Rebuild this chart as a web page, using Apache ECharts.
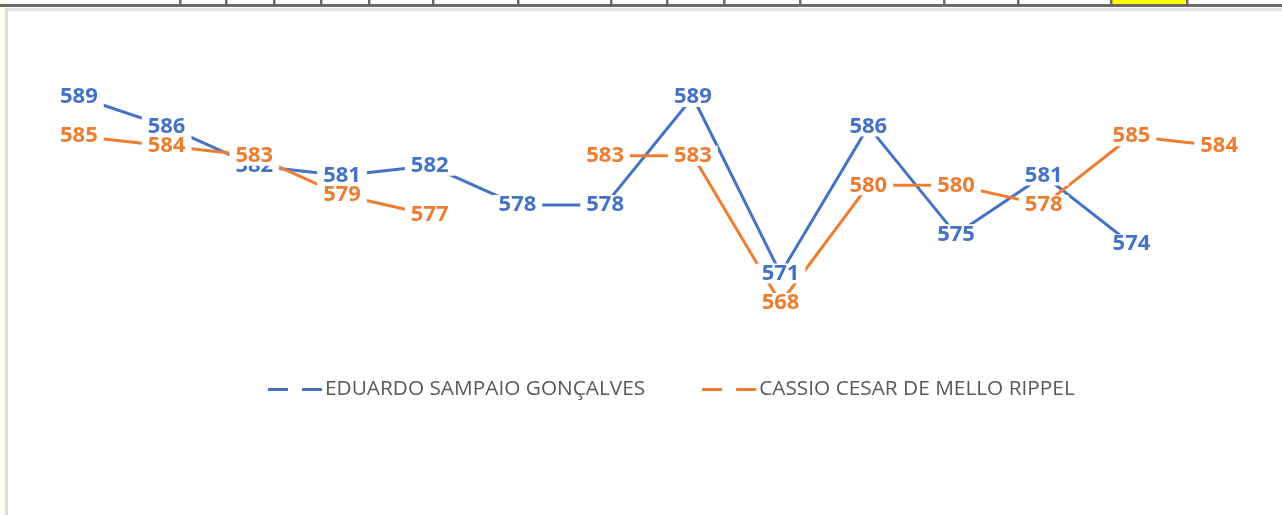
<!DOCTYPE html>
<html><head><meta charset="utf-8">
<script src="https://cdn.jsdelivr.net/npm/echarts@6/dist/echarts.min.js"></script>
<style>html,body{margin:0;padding:0;background:#fff}#c{width:1282px;height:515px}</style>
</head><body><div id="c"></div>
<script>
const categories = ['1','2','3','4','5','6','7','8','9','10','11','12','13','14'];
const eduardo = [589, 586, 582, 581, 582, 578, 578, 589, 571, 586, 575, 581, 574, null];
const cassio  = [585, 584, 583, 579, 577, null, 583, 583, 568, 580, 580, 578, 585, 584];
const seriesNames = ['EDUARDO SAMPAIO GONÇALVES', 'CASSIO CESAR DE MELLO RIPPEL'];
const headerTicks = [180, 226, 274, 321, 369, 433, 518, 611, 667, 724, 800, 944, 1018, 1111, 1187];

const BLUE = '#4472C4', ORANGE = '#ED7D31';
const chart = echarts.init(document.getElementById('c'));

const graphics = [
  {type:'rect', shape:{x:0,y:0,width:5,height:515}, style:{fill:'#fffff4'}, silent:true},
  {type:'rect', shape:{x:0,y:4,width:1282,height:3}, style:{fill:'#6b6b6b'}, silent:true},
  {type:'rect', shape:{x:1112,y:0,width:73,height:4}, style:{fill:'#ffff00'}, silent:true},
  {type:'rect', shape:{x:5,y:8,width:1277,height:3}, style:{fill:'#e2e2e2'}, silent:true},
  {type:'rect', shape:{x:5,y:8,width:3,height:507}, style:{fill:'#dcdcdc'}, silent:true}
];
headerTicks.forEach(x => graphics.push({type:'rect', shape:{x:x-1,y:0,width:2.5,height:5}, style:{fill:'#6b6b6b'}, silent:true}));

function mkSeries(name, data, color){
  return {
    name, type:'line', data, color,
    connectNulls:false,
    symbol:'circle', symbolSize:1, showSymbol:true,
    itemStyle:{color:'transparent'},
    lineStyle:{color, width:3},
    emphasis:{disabled:true},
    animation:false,
    label:{
      show:true, position:'inside', color,
      fontFamily:'Open Sans', fontWeight:'bold', fontSize:22, lineHeight:16,
      backgroundColor:'#fff', padding:[2,6,2,6],
      formatter: p => p.value
    }
  };
}

chart.setOption({
  animation:false,
  graphic: graphics,
  grid:{left:35, width:1228, top:38.1, height:343.4},
  xAxis:{type:'category', data:categories, boundaryGap:true, show:false},
  yAxis:{type:'value', min:560, max:595, show:false},
  legend:{
    top:374, left:263,
    itemGap:57,
    itemWidth:54, itemHeight:3,
    icon:'path://M0,0 h20 v3 h-20 z M34,0 h20 v3 h-20 z',
    textStyle:{color:'#595959', fontFamily:'Open Sans', fontSize:20.8, padding:[0,0,0,-2]},
    data:[
      {name:seriesNames[0], itemStyle:{color:BLUE}},
      {name:seriesNames[1], itemStyle:{color:ORANGE}}
    ]
  },
  series:[mkSeries(seriesNames[0], eduardo, BLUE), mkSeries(seriesNames[1], cassio, ORANGE)]
});
</script></body></html>
